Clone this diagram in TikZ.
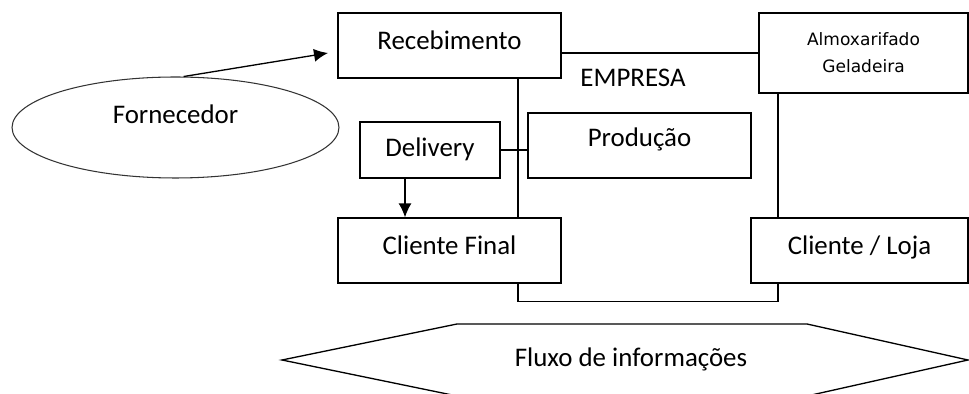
\documentclass[tikz,border=0pt]{standalone}
\usepackage{fontspec}
\setmainfont{Carlito}
\newfontfamily\almoxfont{DejaVu Sans}
\usetikzlibrary{arrows.meta,shapes.geometric}
\begin{document}
\begin{tikzpicture}[x=0.02cm,y=-0.02cm,
        caixa/.style={draw,line width=0.75pt,inner sep=0pt,text height=10pt,text depth=6pt,
            font=\fontsize{15.3}{18}\selectfont},
        seta/.style={line width=0.75pt,-{Latex[length=2.8mm,width=2.6mm]}},
        linha/.style={line width=0.75pt}]
        \useasboundingbox(0,0)rectangle(969,394);
        \node[caixa,minimum width=4.46cm,minimum height=1.3cm](receb)at(449.5,45.5){Recebimento};
        \node[draw,line width=0.75pt,inner sep=0pt,align=center,minimum width=4.18cm,minimum height=1.6cm,
            font=\almoxfont\fontsize{9.7}{15.3}\selectfont](almox)at(863.5,53){Almoxarifado\\Geladeira};
        \node[caixa,text depth=3pt,minimum width=2.8cm,minimum height=1.12cm](deliv)at(430,150){Delivery};
        \node[caixa,text depth=8.6pt,minimum width=4.46cm,minimum height=1.3cm](prod)at(639.5,145.5){Produção};
        \node[caixa,minimum width=4.46cm,minimum height=1.3cm](clifin)at(449.5,250.5){Cliente Final};
        \node[caixa,minimum width=4.34cm,minimum height=1.3cm](cliloja)at(859.5,250.5){Cliente / Loja};
        \node[ellipse,draw,line width=0.6pt,draw=black!80,inner sep=0pt,minimum width=6.54cm,minimum height=2.02cm,
            text height=10pt,text depth=14.2pt,font=\fontsize{15.3}{18}\selectfont](forn)at(175.5,127.5){Fornecedor};
        \node[anchor=base,font=\fontsize{15.3}{18}\selectfont](empresa)at(633,86.5){EMPRESA};
        \coordinate(recIn)at(328,53);
        \draw[seta](forn.81)--(recIn);
        \draw[linha](receb.east|-almox.west)--(almox.west);
        \draw[linha]([xshift=1.37cm]receb.south)--([xshift=1.37cm]receb.south|-clifin.north);
        \draw[linha](deliv.east)--(deliv.east-|prod.west);
        \draw[seta]([xshift=-0.5cm]deliv.south)--([xshift=-0.5cm]deliv.south|-clifin.north);
        \draw[linha]([xshift=-1.63cm]cliloja.north)--([xshift=-1.63cm]cliloja.north|-almox.south);
        \draw[linha]([xshift=1.37cm]clifin.south)--++(0,18)-|([xshift=-1.63cm]cliloja.south);
        \draw[linha](282,360)--(457,324)--(807,324)--(968,360)--(807,396)--(457,396)--cycle;
        \node[anchor=base,font=\fontsize{15.3}{18}\selectfont](fluxo)at(631,366){Fluxo de informações};
    \end{tikzpicture}
\end{document}
